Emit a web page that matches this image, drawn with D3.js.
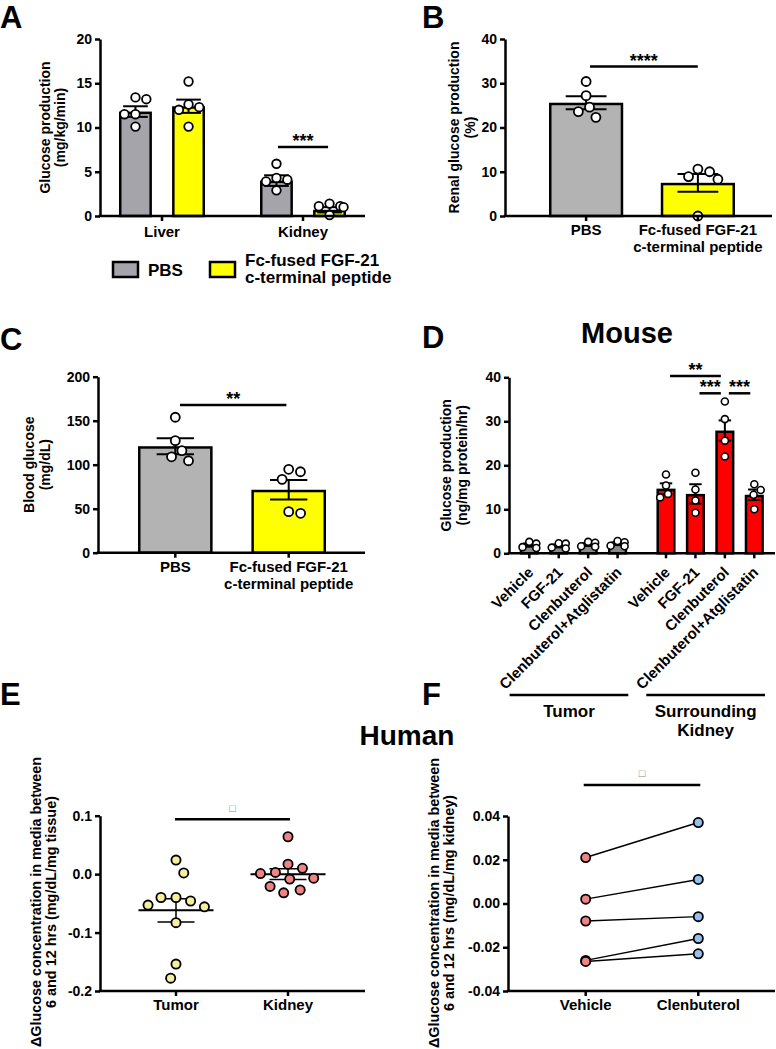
<!DOCTYPE html>
<html>
<head>
<meta charset="utf-8">
<script src="https://cdn.jsdelivr.net/npm/d3@7/dist/d3.min.js"></script>
<style>
html,body{margin:0;padding:0;background:#fff;}
svg{display:block;}
text{font-family:"Liberation Sans",Arial,Helvetica,sans-serif;font-weight:bold;fill:#000;}
</style>
</head>
<body>
<svg id="chart" width="776" height="1049"></svg>
<script>
// ================= DATA =================
// Panel A
const aGroups = ["Liver", "Kidney"];
const aSeries = ["PBS", "Fc-fused FGF-21 c-terminal peptide"];
const aLegendLines = [["PBS"], ["Fc-fused FGF-21", "c-terminal peptide"]];
const aTicks = [0, 5, 10, 15, 20];
const aMeanPBS = [11.8, 4.0];
const aSemPBS = [0.6, 0.6];
const aMeanFc = [12.4, 0.7];
const aSemFc = [0.75, 0.3];
const aPtsPBS = [[13.4, 13.2, 11.5, 11.5, 10.1], [5.9, 4.3, 4.1, 3.9, 2.9]];
const aPtsFc = [[15.2, 12.6, 12.3, 12.0, 10.1], [1.4, 1.1, 1.1, 1.0, 0.1]];

// Panel B
const bCats = ["PBS", "Fc-fused FGF-21"];
const bCatLines = [["PBS"], ["Fc-fused FGF-21", "c-terminal peptide"]];
const bTicks = [0, 10, 20, 30, 40];
const bMeans = [25.6, 7.5];
const bSems = [1.45, 2.0];
const bPts = [[30.4, 27.2, 24.6, 23.6, 22.3], [10.6, 10.0, 8.9, 8.3, 0.0]];

// Panel C
const cCats = ["PBS", "Fc-fused FGF-21"];
const cCatLines = [["PBS"], ["Fc-fused FGF-21", "c-terminal peptide"]];
const cTicks = [0, 50, 100, 150, 200];
const cMeans = [121, 71.5];
const cSems = [9, 11];
const cPts = [[153.9, 127.3, 115.9, 109.0, 104.5], [94.8, 92.0, 83.4, 46.6, 44.8]];

// Panel D (Mouse)
const dGroups = ["Tumor", "Surrounding Kidney"];
const dGroupLines = [["Tumor"], ["Surrounding", "Kidney"]];
const dTreatments = ["Vehicle", "FGF-21", "Clenbuterol", "Clenbuterol+Atglistatin"];
const dTicks = [0, 10, 20, 30, 40];
const dMeansTumor = [1.9, 1.7, 2.0, 2.2];
const dSemsTumor = [0.35, 0.3, 0.3, 0.3];
const dPtsTumor = [[2.6, 2.2, 1.4, 1.2], [2.3, 2.2, 1.3, 1.1], [2.6, 2.4, 1.6, 1.5], [2.8, 2.5, 1.7, 1.6]];
const dMeansKidney = [14.7, 13.5, 27.9, 13.3];
const dSemsKidney = [1.2, 2.2, 2.3, 1.2];
const dPtsKidney = [[17.9, 15.4, 13.5, 12.7], [18.3, 14.5, 12.0, 9.2], [34.5, 30.5, 25.6, 22.0], [15.7, 14.4, 13.3, 10.0]];
const dSig = [["Vehicle", "Clenbuterol", "**", 0], ["FGF-21", "Clenbuterol", "***", 1], ["Clenbuterol", "Clenbuterol+Atglistatin", "***", 1]];

// Panel E (Human)
const eCats = ["Tumor", "Kidney"];
const eTicks = [-0.2, -0.1, 0.0, 0.1];
const eTumor = [0.024, 0.002, -0.040, -0.040, -0.046, -0.053, -0.056, -0.083, -0.154, -0.178];
const eKidney = [0.064, 0.017, 0.010, 0.003, 0.001, -0.007, -0.0085, -0.021, -0.027, -0.032];
const eMeans = [-0.062, 0.000];
const eSems = [0.020, 0.009];

// Panel F
const fCats = ["Vehicle", "Clenbuterol"];
const fTicks = [-0.04, -0.02, 0.00, 0.02, 0.04];
const fVehicle = [0.021, 0.002, -0.008, -0.026, -0.0265];
const fClen = [0.037, 0.011, -0.006, -0.016, -0.023];

// ================= STYLE =================
const AX = 2.5;
const GRAY_A = "#a4a4aa", GRAY_B = "#b3b3b3", GRAY_D = "#8a8a8a";
const YELLOW = "#ffff00", RED = "#ff0000";
const E_YELLOW = "#f6ef9c", E_PINK = "#f08484", F_BLUE = "#92c0f0";

const svg = d3.select("#chart");

// ================= HELPERS =================
function swarm(ys, cd, maxOff) {
  const order = ys.map((_, i) => i).sort((a, b) => ys[a] - ys[b]);
  const placed = [], off = new Array(ys.length).fill(0);
  order.forEach(i => {
    const y = ys[i];
    const cands = [0];
    placed.forEach(p => {
      const dy = Math.abs(p.y - y);
      if (dy < cd) { const dx = Math.sqrt(cd * cd - dy * dy) + 0.01; cands.push(p.x + dx, p.x - dx); }
    });
    const ok = c => placed.every(p => Math.hypot(p.x - c, p.y - y) >= cd);
    const pos = placed.filter(p => p.x > 0.5).length, neg = placed.filter(p => p.x < -0.5).length;
    cands.sort((a, b) => (Math.abs(a) - Math.abs(b)) || (pos > neg ? a - b : b - a));
    let x = cands.find(ok);
    if (x === undefined) x = 0;
    x = Math.max(-maxOff, Math.min(maxOff, x));
    placed.push({ x, y }); off[i] = x;
  });
  return off;
}

function yAxis(x, scale, ticks, fmt) {
  const g = svg.append("g").attr("transform", `translate(${x},0)`)
    .call(d3.axisLeft(scale).tickValues(ticks).tickFormat(fmt).tickSizeOuter(0).tickSizeInner(5).tickPadding(3));
  g.attr("font-size", 14).attr("font-family", null);
  g.select(".domain").attr("stroke", "#000").attr("stroke-width", AX);
  g.selectAll(".tick line").attr("stroke", "#000").attr("stroke-width", AX);
  return g;
}
function xLine(x0, x1, y) {
  svg.append("line").attr("x1", x0 - AX / 2).attr("x2", x1).attr("y1", y).attr("y2", y)
    .attr("stroke", "#000").attr("stroke-width", AX);
}
function xTicks(xs, y) {
  svg.append("g").selectAll("line").data(xs).join("line")
    .attr("x1", d => d).attr("x2", d => d).attr("y1", y).attr("y2", y + 5)
    .attr("stroke", "#000").attr("stroke-width", AX);
}
function yLabel(lines, cy, baselines, size) {
  const g = svg.append("g");
  g.selectAll("text").data(lines).join("text")
    .attr("transform", (d, i) => `translate(${baselines[i]},${cy}) rotate(-90)`)
    .attr("text-anchor", "middle").attr("font-size", size).text(d => d);
}
function multiLabel(lines, cx, y0, lh, size) {
  svg.append("g").selectAll("text").data(lines).join("text")
    .attr("x", cx).attr("y", (d, i) => y0 + i * lh).attr("text-anchor", "middle")
    .attr("font-size", size).text(d => d);
}
function panelLetter(t, x, y) {
  svg.append("text").attr("x", x).attr("y", y).attr("font-size", 31).text(t);
}
function sigLine(x1, x2, y, label) {
  svg.append("line").attr("x1", x1).attr("x2", x2).attr("y1", y).attr("y2", y)
    .attr("stroke", "#000").attr("stroke-width", 2.5);
  svg.append("text").attr("x", (x1 + x2) / 2).attr("y", y).attr("text-anchor", "middle")
    .attr("font-size", 18).text(label);
}
function boxMark(x1, x2, y, symY) {
  svg.append("line").attr("x1", x1).attr("x2", x2).attr("y1", y).attr("y2", y)
    .attr("stroke", "#000").attr("stroke-width", 2.5);
  svg.append("text").attr("x", (x1 + x2) / 2).attr("y", symY).attr("text-anchor", "middle")
    .attr("font-size", 11).attr("font-weight", "normal").style("fill", "#8a8a8a").text("\u25A1");
}
// bars: rows = [{x, w, v, sem, fill, pts}]
function drawBars(rows, y, capFrac, cd, maxOff, r, sw) {
  const g = svg.append("g");
  g.selectAll("rect").data(rows).join("rect")
    .attr("x", d => d.x + AX / 2).attr("width", d => d.w - AX)
    .attr("y", d => y(d.v) + AX / 2).attr("height", d => Math.max(0, y(0) - y(d.v) - AX / 2))
    .attr("fill", d => d.fill).attr("stroke", "#000").attr("stroke-width", AX);
  rows.forEach(d => {
    const cx = d.x + d.w / 2, hw = d.w * capFrac / 2;
    const e = g.append("g").attr("stroke", "#000").attr("stroke-width", 2);
    e.append("line").attr("x1", cx).attr("x2", cx).attr("y1", y(d.v - d.sem)).attr("y2", y(d.v + d.sem));
    e.append("line").attr("x1", cx - hw).attr("x2", cx + hw).attr("y1", y(d.v + d.sem)).attr("y2", y(d.v + d.sem));
    e.append("line").attr("x1", cx - hw).attr("x2", cx + hw).attr("y1", y(d.v - d.sem)).attr("y2", y(d.v - d.sem));
  });
  rows.forEach(d => {
    const cx = d.x + d.w / 2;
    const offs = swarm(d.pts.map(v => y(v)), cd, maxOff);
    g.append("g").selectAll("circle").data(d.pts).join("circle")
      .attr("cx", (v, i) => cx + offs[i]).attr("cy", v => y(v)).attr("r", r)
      .attr("fill", "#fff").attr("stroke", "#000").attr("stroke-width", sw);
  });
}

// ================= PANEL A =================
{
  const y = d3.scaleLinear().domain([0, 20]).range([216, 39]);
  const x0 = d3.scalePoint().domain(aGroups).range([162, 303]);
  const x1 = d3.scaleBand().domain(aSeries).range([-43, 43]).paddingInner(0.38);
  const ser = [
    { name: aSeries[0], m: aMeanPBS, s: aSemPBS, p: aPtsPBS, fill: GRAY_A },
    { name: aSeries[1], m: aMeanFc, s: aSemFc, p: aPtsFc, fill: YELLOW }];
  const rows = [];
  aGroups.forEach((g, gi) => ser.forEach(s => rows.push({
    x: x0(g) + x1(s.name), w: x1.bandwidth(), v: s.m[gi], sem: s.s[gi], fill: s.fill, pts: s.p[gi] })));
  drawBars(rows, y, 0.75, 11, 14, 4.3, 1.8);
  yAxis(100, y, aTicks, d => d);
  xLine(100, 365, y(0));
  xTicks(aGroups.map(g => x0(g)), y(0));
  svg.append("g").selectAll("text").data(aGroups).join("text")
    .attr("x", d => x0(d)).attr("y", 237).attr("text-anchor", "middle").attr("font-size", 15).text(d => d);
  yLabel(["Glucose production", "(mg/kg/min)"], y(10), [50, 65], 14);
  sigLine(x0("Kidney") + x1(aSeries[0]) + 18, x0("Kidney") + x1(aSeries[1]) + 15, 147, "***");
  panelLetter("A", 0, 28);
  // legend
  const lx = d3.scalePoint().domain(aSeries).range([113, 210]);
  const lg = svg.append("g");
  lg.selectAll("rect").data(aSeries).join("rect")
    .attr("x", d => lx(d)).attr("y", 262).attr("width", 25).attr("height", 15)
    .attr("fill", (d, i) => i === 0 ? GRAY_A : YELLOW).attr("stroke", "#000").attr("stroke-width", AX);
  aLegendLines.forEach((lines, i) => {
    lg.append("g").selectAll("text").data(lines).join("text")
      .attr("x", lx(aSeries[i]) + 35).attr("y", (d, j) => (lines.length === 1 ? 276 : 266) + j * 17)
      .attr("font-size", 17).text(d => d);
  });
}

// ================= PANEL B =================
{
  const y = d3.scaleLinear().domain([0, 40]).range([216, 39]);
  const x = d3.scaleBand().domain(bCats).range([549, 735]).paddingInner(0.336);
  const rows = bCats.map((c, i) => ({ x: x(c), w: x.bandwidth(), v: bMeans[i], sem: bSems[i], fill: i ? YELLOW : GRAY_B, pts: bPts[i] }));
  drawBars(rows, y, 0.55, 12, 20, 4.5, 1.8);
  yAxis(505, y, bTicks, d => d);
  xLine(505, 772, y(0));
  xTicks(bCats.map(c => x(c) + x.bandwidth() / 2), y(0));
  bCats.forEach((c, i) => multiLabel(bCatLines[i], x(c) + x.bandwidth() / 2, 235, 17, 15));
  yLabel(["Renal glucose production", "(%)"], y(20), [459, 475], 14);
  sigLine(x(bCats[0]) + 41, x(bCats[1]) + 37, 66.5, "****");
  panelLetter("B", 422, 28);
}

// ================= PANEL C =================
{
  const y = d3.scaleLinear().domain([0, 200]).range([552.7, 376.7]);
  const x = d3.scaleBand().domain(cCats).range([138, 326]).paddingInner(0.342);
  const rows = cCats.map((c, i) => ({ x: x(c), w: x.bandwidth(), v: cMeans[i], sem: cSems[i], fill: i ? YELLOW : GRAY_B, pts: cPts[i] }));
  drawBars(rows, y, 0.5, 12, 20, 4.5, 1.8);
  yAxis(98, y, cTicks, d => d);
  xLine(98, 365, y(0));
  xTicks(cCats.map(c => x(c) + x.bandwidth() / 2), y(0));
  cCats.forEach((c, i) => multiLabel(cCatLines[i], x(c) + x.bandwidth() / 2, 572, 17, 15));
  yLabel(["Blood glucose", "(mg/dL)"], y(100), [34, 50], 14);
  sigLine(x(cCats[0]) + 42, x(cCats[1]) + 35, 405, "**");
  panelLetter("C", 0, 350);
}

// ================= PANEL D =================
{
  const y = d3.scaleLinear().domain([0, 40]).range([553.3, 377.3]);
  const x0 = d3.scaleBand().domain(dGroups).range([514.6, 769]).paddingInner(0.139);
  const x1 = d3.scaleBand().domain(dTreatments).range([0, x0.bandwidth()]).paddingInner(0.35).paddingOuter(0.175);
  const rows = [];
  const centers = [];
  dGroups.forEach((g, gi) => dTreatments.forEach((t, ti) => {
    rows.push({ x: x0(g) + x1(t), w: x1.bandwidth(),
      v: gi ? dMeansKidney[ti] : dMeansTumor[ti], sem: gi ? dSemsKidney[ti] : dSemsTumor[ti],
      fill: gi ? RED : GRAY_D, pts: gi ? dPtsKidney[ti] : dPtsTumor[ti] });
    centers.push({ t, cx: x0(g) + x1(t) + x1.bandwidth() / 2 });
  }));
  drawBars(rows, y, 0.65, 8.6, 7, 3.5, 1.6);
  yAxis(509, y, dTicks, d => d);
  xLine(509, 775, y(0));
  xTicks(centers.map(c => c.cx), y(0));
  svg.append("g").selectAll("text").data(centers).join("text")
    .attr("transform", d => `translate(${d.cx + 5},${y(0) + 20}) rotate(-45)`)
    .attr("text-anchor", "end").attr("font-size", 15).text(d => d.t);
  yLabel(["Glucose production", "(ng/mg protein/hr)"], y(20), [451, 467], 14);
  const kx = t => x0(dGroups[1]) + x1(t) + x1.bandwidth() / 2;
  const levels = [376, 393.3];
  dSig.forEach(([a, b, lab, lv]) => sigLine(kx(a) + 4, kx(b) - 4, levels[lv], lab));
  dGroups.forEach((g, gi) => {
    const xa = x0(g) - 5, xb = x0(g) + x0.bandwidth() - 4;
    svg.append("line").attr("x1", xa).attr("x2", xb).attr("y1", 695).attr("y2", 695)
      .attr("stroke", "#000").attr("stroke-width", AX);
    multiLabel(dGroupLines[gi], (xa + xb) / 2, 717, 19, 17);
  });
  svg.append("text").attr("x", 627).attr("y", 343).attr("text-anchor", "middle").attr("font-size", 29).text("Mouse");
  panelLetter("D", 422, 348);
}

// ================= PANEL E =================
{
  const y = d3.scaleLinear().domain([-0.2, 0.1]).range([991, 815.7]);
  const x = d3.scalePoint().domain(eCats).range([176, 288]);
  const sets = [eTumor, eKidney], fills = [E_YELLOW, E_PINK];
  const g = svg.append("g");
  eCats.forEach((c, i) => {
    const cx = x(c), m = eMeans[i], s = eSems[i];
    g.append("line").attr("x1", cx).attr("x2", cx).attr("y1", y(m - s)).attr("y2", y(m + s)).attr("stroke", "#000").attr("stroke-width", 1.5);
    g.append("line").attr("x1", cx - 18.5).attr("x2", cx + 18.5).attr("y1", y(m + s)).attr("y2", y(m + s)).attr("stroke", "#000").attr("stroke-width", 1.5);
    g.append("line").attr("x1", cx - 18.5).attr("x2", cx + 18.5).attr("y1", y(m - s)).attr("y2", y(m - s)).attr("stroke", "#000").attr("stroke-width", 1.5);
    g.append("line").attr("x1", cx - 37.5).attr("x2", cx + 37.5).attr("y1", y(m)).attr("y2", y(m)).attr("stroke", "#000").attr("stroke-width", 2);
    const offs = swarm(sets[i].map(v => y(v)), 15, 30);
    g.append("g").selectAll("circle").data(sets[i]).join("circle")
      .attr("cx", (v, j) => cx + offs[j]).attr("cy", v => y(v)).attr("r", 4.6)
      .attr("fill", fills[i]).attr("stroke", "#000").attr("stroke-width", 1.8);
  });
  yAxis(100, y, eTicks, d => d.toFixed(1));
  xLine(100, 365, y(-0.2));
  xTicks(eCats.map(c => x(c)), y(-0.2));
  svg.append("g").selectAll("text").data(eCats).join("text")
    .attr("x", d => x(d)).attr("y", 1010).attr("text-anchor", "middle").attr("font-size", 15).text(d => d);
  yLabel(["\u0394Glucose concentration in media between", "6 and 12 hrs (mg/dL/mg tissue)"], 902, [41, 56], 14.4);
  boxMark(x(eCats[0]) - 1, x(eCats[1]) + 2, 819.3, 812);
  svg.append("text").attr("x", 407).attr("y", 745).attr("text-anchor", "middle").attr("font-size", 28).text("Human");
  panelLetter("E", 0, 705);
}

// ================= PANEL F =================
{
  const y = d3.scaleLinear().domain([-0.04, 0.04]).range([991, 816]);
  const x = d3.scalePoint().domain(fCats).range([585.7, 698.3]);
  const pairs = fVehicle.map((v, i) => [v, fClen[i]]);
  const g = svg.append("g");
  g.selectAll("line").data(pairs).join("line")
    .attr("x1", x(fCats[0])).attr("x2", x(fCats[1])).attr("y1", d => y(d[0])).attr("y2", d => y(d[1]))
    .attr("stroke", "#000").attr("stroke-width", 1.5);
  g.append("g").selectAll("circle").data(fVehicle).join("circle")
    .attr("cx", x(fCats[0])).attr("cy", d => y(d)).attr("r", 4.6)
    .attr("fill", E_PINK).attr("stroke", "#000").attr("stroke-width", 1.8);
  g.append("g").selectAll("circle").data(fClen).join("circle")
    .attr("cx", x(fCats[1])).attr("cy", d => y(d)).attr("r", 4.6)
    .attr("fill", F_BLUE).attr("stroke", "#000").attr("stroke-width", 1.8);
  yAxis(508, y, fTicks, d => d.toFixed(2));
  xLine(508, 775, y(-0.04));
  xTicks(fCats.map(c => x(c)), y(-0.04));
  svg.append("g").selectAll("text").data(fCats).join("text")
    .attr("x", d => x(d)).attr("y", 1010).attr("text-anchor", "middle").attr("font-size", 15).text(d => d);
  yLabel(["\u0394Glucose concentration in media between", "6 and 12 hrs (mg/dL/mg kidney)"], 903, [439, 454], 14.4);
  boxMark(x(fCats[0]) - 2, x(fCats[1]) + 2, 785, 777);
  panelLetter("F", 422, 705);
}
</script>
</body>
</html>
